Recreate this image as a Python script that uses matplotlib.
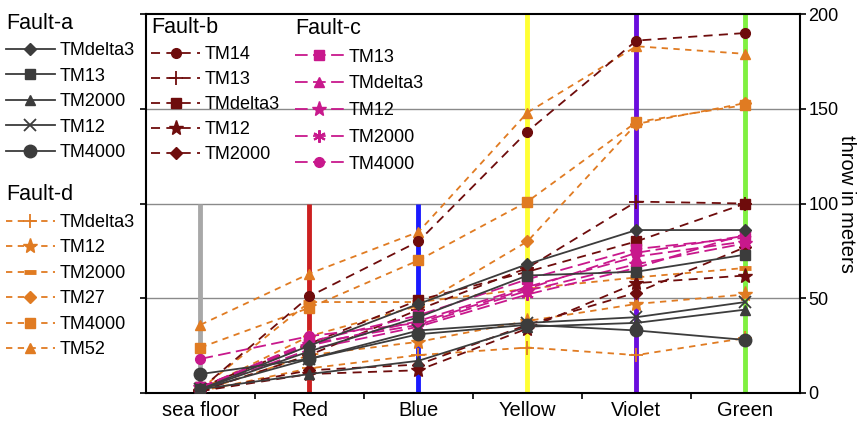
import matplotlib.pyplot as plt

plt.rcParams['font.family'] = ['Liberation Sans', 'DejaVu Sans']

categories = ['sea floor', 'Red', 'Blue', 'Yellow', 'Violet', 'Green']
guide_colors = ['#a8a8a8', '#cc2020', '#1a1aff', '#ffff33', '#6a0ddd', '#80f040']
guide_tops = [100, 100, 100, 200, 200, 200]

# Fault-a
fa_labels = ['TMdelta3', 'TM13', 'TM2000', 'TM12', 'TM4000']
fa_delta3 = [2, 25, 47, 68, 86, 86]
fa_tm13 = [2, 22, 40, 62, 64, 73]
fa_tm2000 = [2, 10, 17, 35, 37, 44]
fa_tm12 = [2, 18, 33, 37, 40, 48]
fa_tm4000 = [10, 18, 31, 36, 33, 28]

# Fault-b
fb_labels = ['TM14', 'TM13', 'TMdelta3', 'TM12', 'TM2000']
fb_tm14 = [2, 51, 80, 138, 186, 190]
fb_tm13 = [1, 20, 44, 66, 101, 100]
fb_delta3 = [3, 26, 49, 64, 80, 100]
fb_tm12 = [1, 10, 12, 34, 58, 62]
fb_tm2000 = [1, 12, 15, 36, 53, 77]

# Fault-c
fc_labels = ['TM13', 'TMdelta3', 'TM12', 'TM2000', 'TM4000']
fc_tm13 = [3, 27, 41, 60, 76, 82]
fc_delta3 = [3, 25, 38, 56, 72, 80]
fc_tm12 = [3, 26, 36, 54, 68, 79]
fc_tm2000 = [2, 23, 35, 52, 66, 84]
fc_tm4000 = [18, 30, 37, 55, 74, 83]

# Fault-d
fd_labels = ['TMdelta3', 'TM12', 'TM2000', 'TM27', 'TM4000', 'TM52']
fd_delta3 = [1, 13, 20, 24, 20, 29]
fd_tm12 = [1, 20, 27, 38, 47, 52]
fd_tm2000 = [2, 48, 48, 55, 61, 66]
fd_tm27 = [2, 30, 46, 80, 142, 153]
fd_tm4000 = [24, 45, 70, 101, 143, 152]
fd_tm52 = [36, 63, 85, 148, 183, 179]

c_a = '#3c3c3c'
c_b = '#6e0c0c'
c_c = '#c8188c'
c_d = '#e07b22'

fig = plt.figure(figsize=(8.66, 4.26), dpi=100)
ax = fig.add_axes([0.1686, 0.0775, 0.755, 0.8895])
x = list(range(len(categories)))

for v in [50, 100, 150]:
    ax.axhline(v, color='#8a8a8a', lw=1.0, zorder=0)
ax.vlines(x, 0, guide_tops, colors=guide_colors, lw=3.5, zorder=1)

def draw(series, labels, markers, color, ls, extra=None):
    handles = []
    for i, (ys, lab, m) in enumerate(zip(series, labels, markers)):
        kw = dict(color=color, ls=ls, lw=1.3, marker=m, ms=7, mfc=color, mec=color, zorder=3)
        if extra and i in extra:
            kw.update(extra[i])
        h, = ax.plot(x, ys, label=lab, **kw)
        handles.append(h)
    return handles

dash_d = (0, (3.5, 3))
dash_b = (0, (5, 3.5))
dash_c = (0, (7, 3))

hd = draw([fd_delta3, fd_tm12, fd_tm2000, fd_tm27, fd_tm4000, fd_tm52], fd_labels,
          ['+', '*', '_', 'D', 's', '^'], c_d, dash_d,
          {0: dict(ms=10, mew=1.3), 1: dict(ms=11), 2: dict(ms=8, mew=3.5), 3: dict(ms=6)})
hb = draw([fb_tm14, fb_tm13, fb_delta3, fb_tm12, fb_tm2000], fb_labels,
          ['o', '+', 's', '*', 'D'], c_b, dash_b,
          {1: dict(ms=10, mew=1.3), 3: dict(ms=11), 4: dict(ms=6)})
hc = draw([fc_tm13, fc_delta3, fc_tm12, fc_tm2000, fc_tm4000], fc_labels,
          ['s', '^', '*', (6, 2, 0), 'o'], c_c, dash_c,
          {2: dict(ms=11), 3: dict(ms=9, mew=1.5)})
ha = draw([fa_delta3, fa_tm13, fa_tm2000, fa_tm12, fa_tm4000], fa_labels,
          ['D', 's', '^', 'x', 'o'], c_a, '-',
          {0: dict(ms=6), 3: dict(ms=8, mew=1.3), 4: dict(ms=9)})

ax.set_xlim(-0.5, 5.5)
ax.set_ylim(0, 200)
ax.set_xticks(x)
ax.set_xticklabels(categories, fontsize=14.5)
ax.set_xticks([i + 0.5 for i in x[:-1]], minor=True)
ax.tick_params(axis='x', which='major', length=0, pad=6)
ax.tick_params(axis='x', which='minor', length=4, width=1.2)
ax.set_yticks([0, 50, 100, 150, 200])
ax.tick_params(axis='y', left=True, right=True, labelleft=False, labelright=True,
               labelsize=13, length=4, width=1.2, pad=2)
ax.yaxis.set_label_position('right')
ax.set_ylabel('throw in meters', fontsize=14.5, rotation=270, labelpad=13)
for s in ax.spines.values():
    s.set_linewidth(1.5)

leg_kw = dict(frameon=False, fontsize=13, title_fontsize=15.5, alignment='left',
              handlelength=2.7, handletextpad=0.25, borderpad=0, borderaxespad=0)
la = fig.legend(handles=ha, title='Fault-a', loc='upper left', labelspacing=0.47,
                bbox_to_anchor=(0.007, 0.97), **leg_kw)
ld = fig.legend(handles=hd, title='Fault-d', loc='upper left', labelspacing=0.47,
                bbox_to_anchor=(0.007, 0.567), **leg_kw)
lb = ax.legend(handles=hb, title='Fault-b', loc='upper left', labelspacing=0.45,
               bbox_to_anchor=(0.008, 0.993), **leg_kw)
ax.add_artist(lb)
lc = ax.legend(handles=hc, title='Fault-c', loc='upper left', labelspacing=0.54,
               bbox_to_anchor=(0.228, 0.99), **leg_kw)

fig.savefig('out.png', dpi=100)
